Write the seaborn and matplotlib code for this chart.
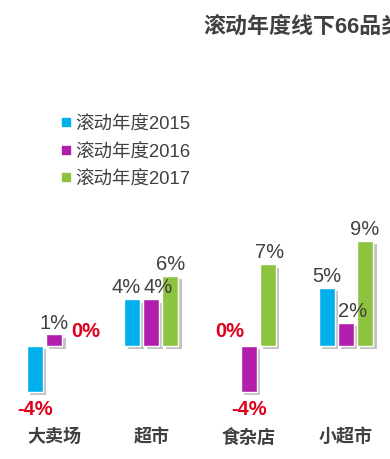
import matplotlib
matplotlib.use("Agg")
import matplotlib.pyplot as plt
import matplotlib.patheffects as pe
from matplotlib.lines import Line2D
import seaborn as sns
import pandas as pd

categories = ["大卖场", "超市", "食杂店", "小超市"]
series_names = ["滚动年度2015", "滚动年度2016", "滚动年度2017"]
values_2015 = [-3.9, 4.0, 0.0, 5.0]
values_2016 = [1.0, 4.0, -3.9, 2.0]
values_2017 = [0.0, 6.0, 7.0, 9.0]
colors = ["#00B0EC", "#B01EAB", "#8DC43F"]
title = "滚动年度线下66品类"

sns.set_style("white")
plt.rcParams["font.family"] = ["Liberation Sans", "Noto Sans CJK SC", "DejaVu Sans"]

rows = []
for name, vals in zip(series_names, [values_2015, values_2016, values_2017]):
    for c, v in zip(categories, vals):
        rows.append({"category": c, "series": name, "value": v})
df = pd.DataFrame(rows)

W, H = 390, 460
fig = plt.figure(figsize=(W / 100, H / 100), dpi=100)
ax_bottom_px, ax_top_px = 420, 225
ax = fig.add_axes([0, (H - ax_bottom_px) / H, 1, (ax_bottom_px - ax_top_px) / H])

sns.barplot(data=df, x="category", y="value", hue="series", order=categories,
            hue_order=series_names, palette=colors, width=0.59, gap=0.16,
            legend=False, ax=ax, saturation=1)

px_per_unit = 11.7
base_px = 347
ax.set_ylim(-(ax_bottom_px - base_px) / px_per_unit, (base_px - ax_top_px) / px_per_unit)
cx0, step = 54, 97.3
ax.set_xlim(-cx0 / step, (W - cx0) / step)

for p in ax.patches:
    p.set_path_effects([pe.SimplePatchShadow(offset=(2.5, -2.5), shadow_rgbFace="#555555", alpha=0.35),
                        pe.Normal()])

# manual label nudges (points), as in the reference
nudge = {(1, 0): -4, (1, 1): 5, (3, 1): 5, (2, 2): 1, (0, 2): 9}

for si, (cont, name) in enumerate(zip(ax.containers, series_names)):
    for ci, bar in enumerate(cont):
        v = bar.get_height()
        x = bar.get_x() + bar.get_width() / 2
        dx = nudge.get((ci, si), 0)
        label = f"{v:.0f}%"
        if v > 0:
            ax.annotate(label, (x, v), xytext=(dx, 2), textcoords="offset points",
                        ha="center", va="bottom", fontsize=14.5, color="#404040")
        elif v < 0:
            ax.annotate(label, (x, v), xytext=(dx, -5), textcoords="offset points",
                        ha="center", va="top", fontsize=14.5, color="#E0001B", fontweight="bold")
        else:
            ax.annotate(label, (x, v), xytext=(dx, 4), textcoords="offset points",
                        ha="center", va="bottom", fontsize=14.5, color="#E0001B", fontweight="bold")

ax.set_xlabel("")
ax.set_ylabel("")
ax.set_yticks([])
ax.tick_params(axis="x", length=0, pad=6)
for lab in ax.get_xticklabels():
    lab.set_fontsize(13)
    lab.set_fontweight("bold")
    lab.set_color("#404040")
for s in ax.spines.values():
    s.set_visible(False)

handles = [Line2D([], [], marker="s", linestyle="none", markersize=6.0, color=c) for c in colors]
fig.legend(handles, series_names, loc="upper left", bbox_to_anchor=(44 / W, 1 - 100 / H),
           frameon=False, fontsize=13.3, handlelength=0.6, handletextpad=0.2,
           labelspacing=0.55, labelcolor="#404040")

fig.text(203 / W, 1 - 27 / H, title, ha="left", va="center", fontsize=15.8,
         fontweight="bold", color="#404040")

fig.savefig("out.png", dpi=100)
